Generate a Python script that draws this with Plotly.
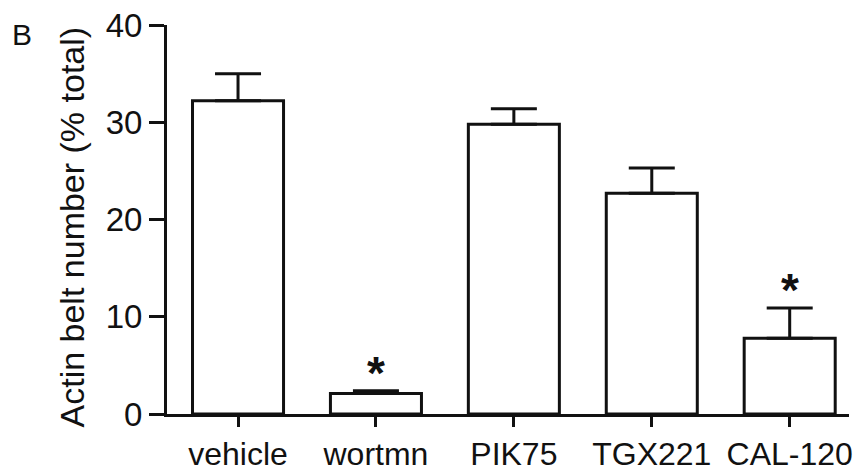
import plotly.graph_objects as go

categories = ["vehicle", "wortmn", "PIK75", "TGX221", "CAL-120"]
means = [32.2, 2.1, 29.8, 22.7, 7.8]
errors = [2.8, 0.3, 1.6, 2.6, 3.1]
significant = [False, True, False, False, True]
y_ticks = [0, 10, 20, 30, 40]

FONT = "Liberation Sans, Arial, Helvetica, sans-serif"
INK = "#111111"

# the page body adds an 8 px offset; size the figure so the plot area lands
# where the reference has it
fig = go.Figure()
fig.add_trace(go.Bar(
    x=categories, y=means, width=0.66,
    marker=dict(color="white", line=dict(color=INK, width=3)),
    error_y=dict(type="data", symmetric=False, array=errors,
                 arrayminus=[0] * len(errors),
                 color=INK, thickness=3, width=23),
    showlegend=False, hoverinfo="skip",
))

for c, m, e, s in zip(categories, means, errors, significant):
    if s:
        fig.add_annotation(x=c, y=m + e, text="<b>*</b>", showarrow=False,
                           yanchor="bottom", yshift=-10,
                           font=dict(family=FONT, size=46, color=INK))

fig.add_annotation(xref="paper", yref="paper", x=-0.139, y=0.48,
                   text="Actin belt number (% total)", textangle=-90,
                   showarrow=False, xanchor="center", yanchor="middle",
                   font=dict(family=FONT, size=34, color=INK))
fig.add_annotation(xref="paper", yref="paper", x=-0.2126, y=0.975,
                   text="B", showarrow=False, xanchor="center", yanchor="middle",
                   font=dict(family=FONT, size=30, color=INK))

fig.update_layout(
    width=855, height=465,
    margin=dict(l=159, r=14, t=17, b=59, autoexpand=False),
    paper_bgcolor="white", plot_bgcolor="white",
    font=dict(family=FONT, size=32, color=INK),
    xaxis=dict(range=[-0.515, 4.43], showline=True, linecolor=INK, linewidth=3,
               ticks="outside", ticklen=10, tickwidth=3, tickcolor=INK,
               showgrid=False, zeroline=False, automargin=False,
               ticklabeloverflow="allow",
               tickfont=dict(family=FONT, size=32, color=INK)),
    yaxis=dict(range=[0, 40], tickvals=y_ticks, showline=True, linecolor=INK,
               linewidth=3, ticks="outside", ticklen=15, tickwidth=3,
               tickcolor=INK, showgrid=False, zeroline=False, automargin=False,
               ticklabeloverflow="allow",
               tickfont=dict(family=FONT, size=33, color=INK)),
)

fig.write_html("out.html")
